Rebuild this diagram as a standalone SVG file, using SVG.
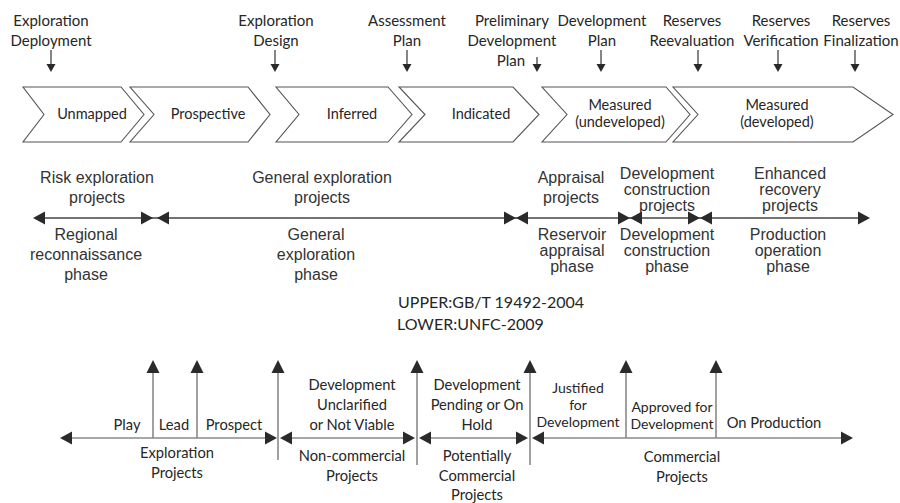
<svg xmlns="http://www.w3.org/2000/svg" xmlns:xlink="http://www.w3.org/1999/xlink" width="900" height="503" viewBox="0 0 900 503">
<style>
.c{font-family:Lato,"Open Sans","Liberation Sans",sans-serif;fill:#262626;text-anchor:middle}
.t{font-size:15px}
.ch{font-size:14.5px}
.b{font-size:14.7px}
.s{font-size:14px}
.a{font-family:"Liberation Sans",Arial,sans-serif;font-size:16px;fill:#333;text-anchor:middle}
.chev{fill:#fff;stroke:#555;stroke-width:1.1}
.ln{stroke:#444;stroke-width:1.3;fill:none}
.gl{stroke:#8a8a8a;stroke-width:1.6;fill:none}
.hd{fill:#2a2a2a}
</style>
<defs>
<path id="dn" d="M0,0 L-4.5,-8 L4.5,-8 Z"/>
<path id="rt" d="M0,0 L-12,-6.5 L-12,6.5 Z"/>
<path id="up" d="M0,0 L-6.5,13 L6.5,13 Z"/>
</defs>
<rect width="900" height="503" fill="#fff"/>

<g id="top-labels">
<text class="c t" x="51" y="26">Exploration</text>
<text class="c t" x="51" y="46">Deployment</text>
<text class="c t" x="276" y="26">Exploration</text>
<text class="c t" x="276" y="46">Design</text>
<text class="c t" x="407" y="26">Assessment</text>
<text class="c t" x="407" y="46">Plan</text>
<text class="c t" x="512" y="26">Preliminary</text>
<text class="c t" x="512" y="46">Development</text>
<text class="c t" x="511" y="66">Plan</text>
<text class="c t" x="602" y="26">Development</text>
<text class="c t" x="602" y="46">Plan</text>
<text class="c t" x="692" y="26">Reserves</text>
<text class="c t" x="692" y="46">Reevaluation</text>
<text class="c t" x="781" y="26">Reserves</text>
<text class="c t" x="781" y="46">Verification</text>
<text class="c t" x="861" y="26">Reserves</text>
<text class="c t" x="861" y="46">Finalization</text>
</g>

<g id="chevron-unmapped">
<polygon class="chev" points="23,87 121,87 144,114.5 121,142 23,142 44,114.5"/>
<text class="c ch" x="92" y="119">Unmapped</text>
</g>
<g id="chevron-prospective">
<polygon class="chev" points="130,87 248,87 270,114.5 248,142 130,142 154,114.5"/>
<text class="c ch" x="208" y="119">Prospective</text>
</g>
<g id="chevron-inferred">
<polygon class="chev" points="276,87 388,87 412,114.5 388,142 276,142 299,114.5"/>
<text class="c ch" x="352" y="119">Inferred</text>
</g>
<g id="chevron-indicated">
<polygon class="chev" points="399,87 513,87 539,114.5 513,142 399,142 425,114.5"/>
<text class="c ch" x="481" y="119">Indicated</text>
</g>
<g id="chevron-measured-undeveloped">
<polygon class="chev" points="542,87 666,87 690,114.5 666,142 542,142 567,114.5"/>
<text class="c ch" x="620" y="110">Measured</text>
<text class="c ch" x="620" y="127">(undeveloped)</text>
</g>
<g id="chevron-measured-developed">
<polygon class="chev" points="673,87 853,87 893,114.5 853,142 673,142 698,114.5"/>
<text class="c ch" x="777" y="110">Measured</text>
<text class="c ch" x="777" y="127">(developed)</text>
</g>

<g id="upper-projects">
<text class="a" x="97" y="183">Risk exploration</text>
<text class="a" x="97" y="203">projects</text>
<text class="a" x="322" y="183">General exploration</text>
<text class="a" x="322" y="203">projects</text>
<text class="a" x="571" y="183">Appraisal</text>
<text class="a" x="571" y="203">projects</text>
<text class="a" x="667" y="179">Development</text>
<text class="a" x="667" y="195">construction</text>
<text class="a" x="667" y="211">projects</text>
<text class="a" x="790" y="179">Enhanced</text>
<text class="a" x="790" y="195">recovery</text>
<text class="a" x="790" y="211">projects</text>
</g>
<g id="upper-phases">
<text class="a" x="86" y="240">Regional</text>
<text class="a" x="86" y="260">reconnaissance</text>
<text class="a" x="86" y="280">phase</text>
<text class="a" x="316" y="240">General</text>
<text class="a" x="316" y="260">exploration</text>
<text class="a" x="316" y="280">phase</text>
<text class="a" x="572" y="240">Reservoir</text>
<text class="a" x="572" y="256">appraisal</text>
<text class="a" x="572" y="272">phase</text>
<text class="a" x="667" y="240">Development</text>
<text class="a" x="667" y="256">construction</text>
<text class="a" x="667" y="272">phase</text>
<text class="a" x="788" y="240">Production</text>
<text class="a" x="788" y="256">operation</text>
<text class="a" x="788" y="272">phase</text>
</g>

<g id="legend">
<text class="c" style="text-anchor:start;font-size:16px" x="398" y="308">UPPER:GB/T 19492-2004</text>
<text class="c" style="text-anchor:start;font-size:16px" x="397" y="330">LOWER:UNFC-2009</text>
</g>

<g id="lower-labels">
<text class="c b" x="127" y="430">Play</text>
<text class="c b" x="174" y="430">Lead</text>
<text class="c b" x="234" y="430">Prospect</text>
<text class="c b" x="177" y="458">Exploration</text>
<text class="c b" x="177" y="478">Projects</text>
<text class="c b" x="352" y="390">Development</text>
<text class="c b" x="352" y="410">Unclarified</text>
<text class="c b" x="352" y="430">or Not Viable</text>
<text class="c b" x="352" y="461">Non-commercial</text>
<text class="c b" x="352" y="481">Projects</text>
<text class="c b" x="477" y="390">Development</text>
<text class="c b" x="477" y="410">Pending or On</text>
<text class="c b" x="477" y="430">Hold</text>
<text class="c b" x="477" y="461">Potentially</text>
<text class="c b" x="477" y="481">Commercial</text>
<text class="c b" x="477" y="500">Projects</text>
<text class="c s" x="578" y="393">Justified</text>
<text class="c s" x="578" y="410">for</text>
<text class="c s" x="578" y="427">Development</text>
<text class="c s" x="672" y="412">Approved for</text>
<text class="c s" x="672" y="429">Development</text>
<text class="c b" x="774" y="428">On Production</text>
<text class="c b" x="682" y="462">Commercial</text>
<text class="c b" x="682" y="482">Projects</text>
</g>

<g id="connectors">
<g class="ln">
<line x1="51" y1="50" x2="51" y2="65"/>
<line x1="275" y1="50" x2="275" y2="65"/>
<line x1="407" y1="50" x2="407" y2="65"/>
<line x1="537" y1="57" x2="537" y2="65"/>
<line x1="601" y1="50" x2="601" y2="65"/>
<line x1="698" y1="50" x2="698" y2="65"/>
<line x1="778" y1="50" x2="778" y2="65"/>
<line x1="855" y1="50" x2="855" y2="65"/>
</g>
<g class="hd">
<use xlink:href="#dn" transform="translate(51,72)"/>
<use xlink:href="#dn" transform="translate(275,72)"/>
<use xlink:href="#dn" transform="translate(407,72)"/>
<use xlink:href="#dn" transform="translate(537,72)"/>
<use xlink:href="#dn" transform="translate(601,72)"/>
<use xlink:href="#dn" transform="translate(698,72)"/>
<use xlink:href="#dn" transform="translate(778,72)"/>
<use xlink:href="#dn" transform="translate(855,72)"/>
</g>
<line class="ln" x1="35" y1="218" x2="868" y2="218"/>
<g class="hd">
<use xlink:href="#rt" transform="translate(33,218) rotate(180)"/>
<use xlink:href="#rt" transform="translate(153,218)"/>
<use xlink:href="#rt" transform="translate(157,218) rotate(180)"/>
<use xlink:href="#rt" transform="translate(516,218)"/>
<use xlink:href="#rt" transform="translate(516,218) rotate(180)"/>
<use xlink:href="#rt" transform="translate(630,218)"/>
<use xlink:href="#rt" transform="translate(630,218) rotate(180)"/>
<use xlink:href="#rt" transform="translate(700,218)"/>
<use xlink:href="#rt" transform="translate(700,218) rotate(180)"/>
<use xlink:href="#rt" transform="translate(870,218)"/>
</g>
<g class="gl">
<line x1="62" y1="438" x2="275" y2="438"/>
<line x1="282" y1="438" x2="413" y2="438"/>
<line x1="421" y1="438" x2="526" y2="438"/>
<line x1="534" y1="438" x2="851" y2="438"/>
<line x1="153" y1="366" x2="153" y2="438"/>
<line x1="197" y1="366" x2="197" y2="438"/>
<line x1="278" y1="366" x2="278" y2="460"/>
<line x1="417" y1="366" x2="417" y2="465"/>
<line x1="530" y1="366" x2="530" y2="465"/>
<line x1="626" y1="366" x2="626" y2="438"/>
<line x1="716" y1="366" x2="716" y2="438"/>
</g>
<g class="hd">
<use xlink:href="#rt" transform="translate(60,438) rotate(180)"/>
<use xlink:href="#rt" transform="translate(277,438)"/>
<use xlink:href="#rt" transform="translate(280,438) rotate(180)"/>
<use xlink:href="#rt" transform="translate(415,438)"/>
<use xlink:href="#rt" transform="translate(419,438) rotate(180)"/>
<use xlink:href="#rt" transform="translate(528,438)"/>
<use xlink:href="#rt" transform="translate(532,438) rotate(180)"/>
<use xlink:href="#rt" transform="translate(853,438)"/>
<use xlink:href="#up" transform="translate(153,360)"/>
<use xlink:href="#up" transform="translate(197,360)"/>
<use xlink:href="#up" transform="translate(278,360)"/>
<use xlink:href="#up" transform="translate(417,360)"/>
<use xlink:href="#up" transform="translate(530,360)"/>
<use xlink:href="#up" transform="translate(626,360)"/>
<use xlink:href="#up" transform="translate(716,360)"/>
</g>
</g>
</svg>
